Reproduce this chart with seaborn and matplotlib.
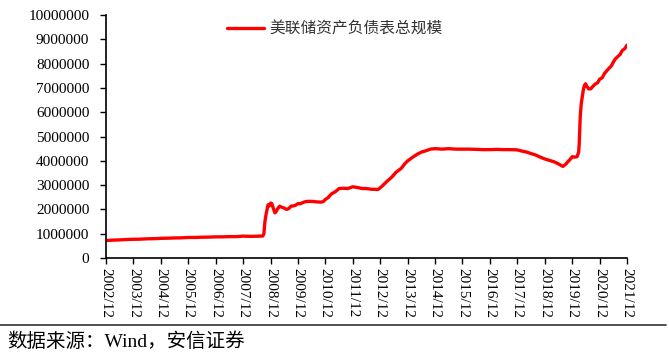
import matplotlib
matplotlib.use("Agg")
import matplotlib.pyplot as plt
from matplotlib.lines import Line2D
import seaborn as sns
import pandas as pd

series_name = "美联储资产负债表总规模"
source_text = "数据来源：Wind，安信证券"

dates = [
    "2002-12-18", "2003-03-15", "2003-06-15", "2003-09-15", "2003-12-15",
    "2004-03-15", "2004-06-15", "2004-09-15", "2004-12-15",
    "2005-03-15", "2005-06-15", "2005-09-15", "2005-12-15",
    "2006-03-15", "2006-06-15", "2006-09-15", "2006-12-15",
    "2007-03-15", "2007-06-15", "2007-09-15", "2007-12-15",
    "2008-03-15", "2008-06-15", "2008-09-03", "2008-09-17", "2008-09-24",
    "2008-10-01", "2008-10-15", "2008-10-29", "2008-11-12", "2008-11-26",
    "2008-12-17", "2008-12-31",
    "2009-01-21", "2009-02-11", "2009-02-25", "2009-03-18", "2009-04-15",
    "2009-05-13", "2009-06-10", "2009-07-15", "2009-08-12", "2009-09-16",
    "2009-10-14", "2009-11-18", "2009-12-16",
    "2010-01-13", "2010-02-17", "2010-03-17", "2010-04-14", "2010-06-16",
    "2010-08-18", "2010-10-13", "2010-11-17", "2010-12-15",
    "2011-01-19", "2011-02-16", "2011-03-16", "2011-04-13", "2011-05-18",
    "2011-06-15", "2011-08-17", "2011-10-12", "2011-12-14",
    "2012-02-15", "2012-04-18", "2012-06-13", "2012-08-15", "2012-10-17",
    "2012-11-14", "2012-12-19",
    "2013-01-16", "2013-03-13", "2013-05-15", "2013-07-17", "2013-09-18",
    "2013-11-13", "2013-12-18",
    "2014-02-12", "2014-04-16", "2014-06-18", "2014-08-13", "2014-10-15",
    "2014-12-17",
    "2015-03-18", "2015-06-17", "2015-09-16", "2015-12-16",
    "2016-03-16", "2016-06-15", "2016-09-14", "2016-12-14",
    "2017-03-15", "2017-06-14", "2017-09-13", "2017-11-15", "2017-12-13",
    "2018-02-14", "2018-04-18", "2018-06-13", "2018-08-15", "2018-10-17",
    "2018-12-12",
    "2019-02-13", "2019-04-17", "2019-06-12", "2019-08-14", "2019-09-18",
    "2019-10-16", "2019-11-13", "2019-12-18",
    "2020-01-15", "2020-02-19", "2020-03-11", "2020-03-18", "2020-03-25",
    "2020-04-01", "2020-04-15", "2020-04-29", "2020-05-13", "2020-05-27",
    "2020-06-10", "2020-06-24", "2020-07-22", "2020-08-19", "2020-09-16",
    "2020-10-14", "2020-11-18", "2020-12-16",
    "2021-01-20", "2021-02-17", "2021-03-17", "2021-04-14", "2021-05-19",
    "2021-06-16", "2021-07-14", "2021-08-18", "2021-09-15", "2021-10-13",
    "2021-11-17", "2021-12-15",
]

values = [
    720000, 735000, 745000, 760000, 770000,
    775000, 790000, 795000, 810000,
    815000, 825000, 830000, 845000,
    845000, 855000, 860000, 870000,
    870000, 880000, 880000, 900000,
    890000, 895000, 905000, 1000000, 1270000,
    1500000, 1780000, 1990000, 2190000, 2140000,
    2260000, 2240000,
    2040000, 1860000, 1900000, 2020000, 2130000,
    2090000, 2060000, 2000000, 2030000, 2140000,
    2140000, 2180000, 2240000,
    2230000, 2280000, 2310000, 2330000, 2330000,
    2310000, 2300000, 2320000, 2410000,
    2480000, 2580000, 2660000, 2700000, 2780000,
    2860000, 2870000, 2860000, 2930000,
    2900000, 2860000, 2860000, 2830000, 2820000,
    2820000, 2900000,
    2980000, 3150000, 3320000, 3540000, 3680000,
    3900000, 4000000,
    4130000, 4260000, 4360000, 4410000, 4480000,
    4500000,
    4480000, 4500000, 4480000, 4480000,
    4480000, 4470000, 4460000, 4460000,
    4470000, 4460000, 4460000, 4450000, 4450000,
    4400000, 4360000, 4300000, 4240000, 4150000,
    4080000,
    4020000, 3960000, 3880000, 3770000, 3850000,
    3950000, 4040000, 4170000,
    4150000, 4170000, 4360000, 4670000, 5250000,
    5810000, 6370000, 6660000, 6930000, 7100000,
    7170000, 7090000, 6960000, 6960000, 7060000,
    7150000, 7210000, 7360000,
    7420000, 7590000, 7690000, 7790000, 7900000,
    8060000, 8200000, 8300000, 8380000, 8540000,
    8620000, 8760000,
]

tick_years = list(range(2002, 2022))
tick_labels = [f"{y}/12" for y in tick_years]
y_ticks = list(range(0, 10000001, 1000000))

df = pd.DataFrame({"date": pd.to_datetime(dates), "value": values})

sns.set_style("ticks")
plt.rcParams["font.family"] = ["Liberation Serif", "Noto Sans CJK SC", "DejaVu Sans"]

fig = plt.figure(figsize=(6.69, 3.56), dpi=100)
ax = fig.add_axes([106 / 669, 1 - 258 / 356, (627 - 106) / 669, (258 - 15) / 356])

sns.lineplot(data=df, x="date", y="value", color="#FF0000", linewidth=2.4,
             label=series_name, ax=ax)

tick_pos = [pd.Timestamp(f"{y}-12-15") for y in tick_years]
ax.set_xlim(tick_pos[0], tick_pos[-1])
ax.set_xticks(tick_pos)
ax.set_xticklabels(tick_labels, rotation=270, ha="center", va="top",
                   fontsize=11, color="black")
ax.set_ylim(0, 10000000)
ax.set_yticks(y_ticks)
ax.set_yticklabels([str(v) for v in y_ticks], fontsize=11, color="black")
ax.set_xlabel("")
ax.set_ylabel("")

for s in ["top", "right"]:
    ax.spines[s].set_visible(False)
for s in ["left", "bottom"]:
    ax.spines[s].set_color("black")
    ax.spines[s].set_linewidth(1.2)
ax.tick_params(axis="both", direction="out", length=4, width=1.0, color="black")
ax.tick_params(axis="x", pad=3)
ax.tick_params(axis="y", pad=8)

leg = ax.legend(loc="center", bbox_to_anchor=(0.44, 0.942), frameon=False,
                handlelength=2.3, handletextpad=0.4,
                prop={"family": ["Noto Sans CJK SC", "DejaVu Sans"], "size": 11.3})
for t in leg.get_texts():
    t.set_color("#333333")

fig.add_artist(Line2D([0, 0.995], [1 - 325 / 356, 1 - 325 / 356],
                      transform=fig.transFigure, color="#333333", linewidth=1.2))
fig.text(7 / 669, 1 - 342 / 356, source_text, fontsize=14, va="center", ha="left",
         color="black", family=["Liberation Serif", "Noto Sans CJK SC"])

fig.savefig("out.png", dpi=100)
